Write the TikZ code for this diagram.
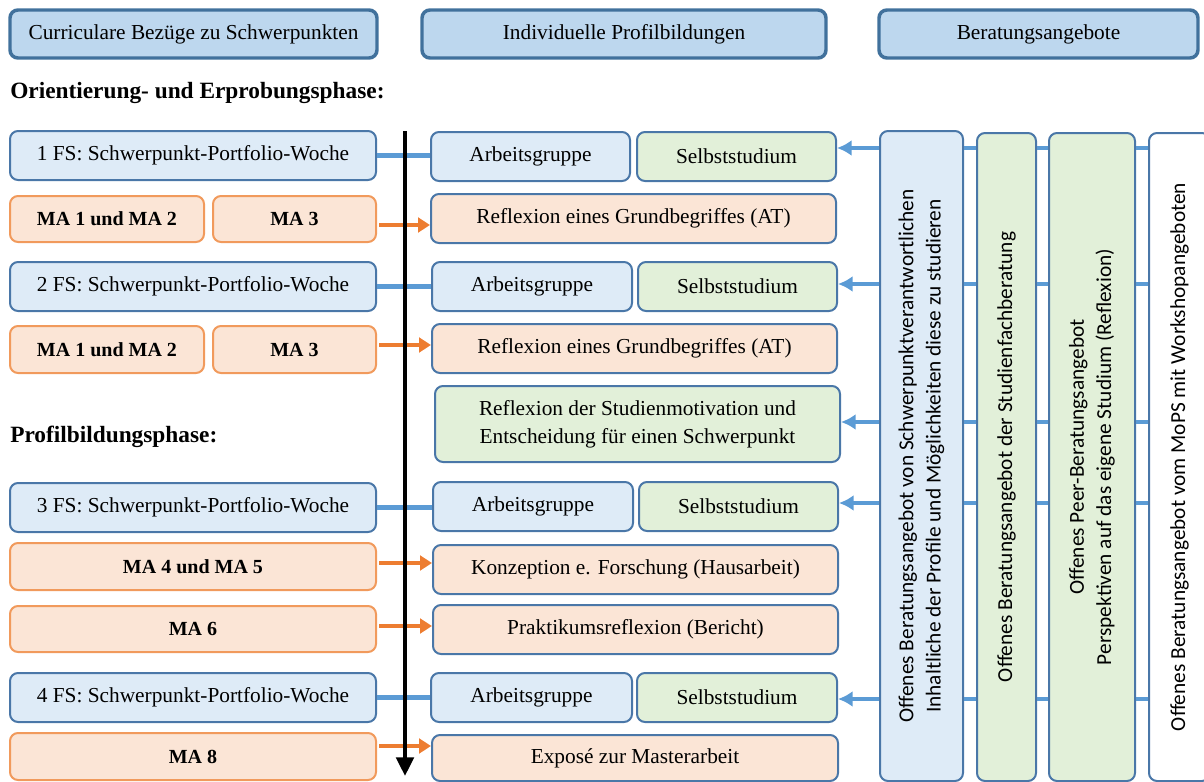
\documentclass[tikz,border=0pt]{standalone}
\usepackage{fontspec}
\setmainfont{Liberation Serif}
\newfontfamily\vsans{Carlito}
\usetikzlibrary{arrows.meta}
\definecolor{hdrfill}{HTML}{BDD7EE}
\definecolor{hdrdraw}{HTML}{41719C}
\definecolor{bdr}{HTML}{4A77A8}
\definecolor{lblue}{HTML}{DEEBF7}
\definecolor{lgreen}{HTML}{E2F0D9}
\definecolor{lorange}{HTML}{FBE5D6}
\definecolor{obdr}{HTML}{F19A5C}
\definecolor{cblue}{HTML}{5B9BD5}
\definecolor{corange}{HTML}{ED7D31}
\begin{document}
\begin{tikzpicture}[x=0.75pt,y=-0.75pt,
  wh/.style 2 args={minimum width=#1*0.75pt, minimum height=#2*0.75pt},
  base/.style={rounded corners=6pt, line width=1.5pt, draw=bdr, inner sep=0pt, align=center,
    font=\fontsize{16}{21}\selectfont},
  hdr/.style={base, fill=hdrfill, draw=hdrdraw, line width=2.6pt},
  bluebox/.style={base, fill=lblue},
  greenbox/.style={base, fill=lgreen},
  orbox/.style={base, fill=lorange},
  mabox/.style={base, fill=lorange, draw=obdr, font=\fontsize{15}{18}\selectfont\bfseries},
  whitebox/.style={base, fill=white},
  vtext/.style={rotate=90, align=center, inner sep=0pt, font=\vsans\fontsize{16}{20.5}\selectfont},
  phase/.style={anchor=west, inner sep=0pt, font=\fontsize{17.5}{20}\selectfont\bfseries},
  bline/.style={draw=cblue, line width=3.4pt},
  tick/.style={draw=cblue, line width=3pt},
  barr/.style={draw=cblue, line width=3pt, -{Latex[length=11pt,width=12pt]}},
  oarr/.style={draw=corange, line width=2.3pt, -{Triangle[length=9pt,width=11pt]}, shorten <=1.5pt},
  tarr/.style={draw=black, line width=3pt, -{Triangle[length=14pt,width=13pt]}}
]
\useasboundingbox (0,0) rectangle (1204,782);

% headers
\node[hdr, wh={367}{48}] (h1) at (193.5,34) {Curriculare Bezüge zu Schwerpunkten};
\node[hdr, wh={404}{48}] (h2) at (624,34) {Individuelle Profilbildungen};
\node[hdr, wh={319}{48}] (h3) at (1038.5,34) {Beratungsangebote};

% phase labels
\node[phase] (p1) at (10,93) {Orientierung- und Erprobungsphase:};
\node[phase] (p2) at (10,437) {Profilbildungsphase:};

% left column
\node[bluebox, wh={366}{49}] (fs1) at (193,155.5) {1 FS: Schwerpunkt-Portfolio-Woche};
\node[mabox, wh={194}{46}] (ma12a) at (107,219) {MA 1 und MA 2};
\node[mabox, wh={163}{46}] (ma3a) at (294.5,219) {MA 3};
\node[bluebox, wh={366}{49}] (fs2) at (193,286.5) {2 FS: Schwerpunkt-Portfolio-Woche};
\node[mabox, wh={194}{47}] (ma12b) at (107,349.5) {MA 1 und MA 2};
\node[mabox, wh={163}{47}] (ma3b) at (294.5,349.5) {MA 3};
\node[bluebox, wh={366}{49}] (fs3) at (193,507.5) {3 FS: Schwerpunkt-Portfolio-Woche};
\node[mabox, wh={366}{47}] (ma45) at (193,566.5) {MA 4 und MA 5};
\node[mabox, wh={366}{46}] (ma6) at (193,629) {MA 6};
\node[bluebox, wh={366}{49}] (fs4) at (193,697.5) {4 FS: Schwerpunkt-Portfolio-Woche};
\node[mabox, wh={366}{47}] (ma8) at (193,756.5) {MA 8};

% middle column
\node[bluebox, wh={199}{49}] (ag1) at (530.5,156.5) {Arbeitsgruppe};
\node[greenbox, wh={199}{49}] (ss1) at (736.5,156.5) {Selbststudium};
\node[orbox, wh={405}{49}] (ref1) at (633.5,218.5) {Reflexion eines Grundbegriffes (AT)};
\node[bluebox, wh={200}{49}] (ag2) at (532,286.5) {Arbeitsgruppe};
\node[greenbox, wh={199}{49}] (ss2) at (737.5,286.5) {Selbststudium};
\node[orbox, wh={405}{49}] (ref2) at (634.5,348.5) {Reflexion eines Grundbegriffes (AT)};
\node[greenbox, wh={405}{76}] (mot) at (637.5,424) {Reflexion der Studienmotivation und\\Entscheidung für einen Schwerpunkt};
\node[bluebox, wh={200}{49}] (ag3) at (533,506.5) {Arbeitsgruppe};
\node[greenbox, wh={199}{49}] (ss3) at (738.5,506.5) {Selbststudium};
\node[orbox, wh={405}{49}] (konz) at (635.5,569.5) {Konzeption e. Forschung (Hausarbeit)};
\node[orbox, wh={405}{49}] (prak) at (635.5,629.5) {Praktikumsreflexion (Bericht)};
\node[bluebox, wh={201}{49}] (ag4) at (531.5,697.5) {Arbeitsgruppe};
\node[greenbox, wh={200}{49}] (ss4) at (737,697.5) {Selbststudium};
\node[orbox, wh={406}{46}] (expo) at (635,758) {Exposé zur Masterarbeit};

% right column
\node[bluebox, wh={83}{650}] (v1) at (921.5,456) {};
\node[greenbox, wh={59}{648}] (v2) at (1006.5,457) {};
\node[greenbox, wh={86}{648}] (v3) at (1092,457) {};
\node[whitebox, wh={61}{648}] (v4) at (1179.5,457) {};
\node[vtext] (v1t) at (v1.center) {Offenes Beratungsangebot von Schwerpunktverantwortlichen\\Inhaltliche der Profile und Möglichkeiten diese zu studieren};
\node[vtext] (v2t) at (v2.center) {Offenes Beratungsangebot der Studienfachberatung};
\node[vtext] (v3t) at (v3.center) {Offenes Peer-Beratungsangebot\\Perspektiven auf das eigene Studium (Reflexion)};
\node[vtext] (v4t) at (v4.center) {Offenes Beratungsangebot vom MoPS mit Workshopangeboten};

% level coordinates
\coordinate (o1) at (0,225);
\coordinate (o2) at (0,345);
\coordinate (o3) at (0,563);
\coordinate (o4) at (0,626);
\coordinate (o5) at (0,746);
\coordinate (b1) at (0,148);
\coordinate (b2) at (0,284);
\coordinate (b3) at (0,422);
\coordinate (b4) at (0,503);
\coordinate (b5) at (0,699);

% FS -> Arbeitsgruppe
\foreach \a/\b in {fs1/ag1, fs2/ag2, fs3/ag3, fs4/ag4}
  \draw[bline] (\a.east) -- (\a.east -| \b.west);

% MA -> reflection boxes
\draw[oarr] (ma3a.east |- o1) -- (ref1.west |- o1);
\draw[oarr] (ma3b.east |- o2) -- (ref2.west |- o2);
\draw[oarr] (ma45.east |- o3) -- (konz.west |- o3);
\draw[oarr] (ma6.east |- o4) -- (prak.west |- o4);
\draw[oarr] (ma8.east |- o5) -- (expo.west |- o5);

% counselling -> middle
\draw[barr] (v1.west |- b1) -- (ss1.east |- b1);
\draw[barr] (v1.west |- b2) -- (ss2.east |- b2);
\draw[barr] (v1.west |- b3) -- (mot.east |- b3);
\draw[barr] (v1.west |- b4) -- (ss3.east |- b4);
\draw[barr] (v1.west |- b5) -- (ss4.east |- b5);

% ticks between counselling columns
\foreach \t in {b1,b2,b3,b4,b5} {
  \draw[tick] (v1.east |- \t) -- (v2.west |- \t);
  \draw[tick] (v2.east |- \t) -- (v3.west |- \t);
  \draw[tick] (v3.east |- \t) -- (v4.west |- \t);
}

% timeline
\coordinate (ts) at (405,131);
\coordinate (te) at (405,776);
\draw[tarr] (ts) -- (te);
\end{tikzpicture}
\end{document}
